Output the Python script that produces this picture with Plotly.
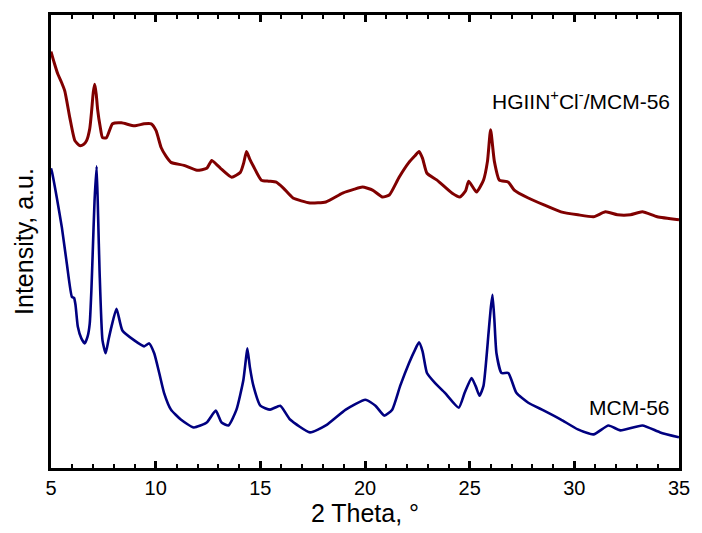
import plotly.graph_objects as go

# 2-theta positions (degrees) and intensities (a.u.)
theta_hgiin = [5.0, 5.15, 5.33, 5.5, 5.66, 5.9, 6.14, 6.37, 6.55, 6.7, 6.85, 6.94, 7.02, 7.09, 7.16,
               7.23, 7.35, 7.46, 7.65, 7.94, 8.36, 8.98, 9.45, 9.79, 10.02, 10.26, 10.5, 10.73,
               11.35, 11.97, 12.44, 12.68, 12.9, 13.1, 13.63, 14.05, 14.2, 14.34, 14.5, 14.67,
               15.05, 15.4, 15.76, 16.1, 16.56, 17.37, 18.13, 18.93, 19.5, 19.88, 20.36, 20.83,
               21.16, 21.63, 22.1, 22.4, 22.58, 22.75, 22.96, 23.44, 24.15, 24.53, 24.8, 24.95,
               25.15, 25.33, 25.66, 25.85, 26.0, 26.18, 26.42, 26.85, 27.13, 27.8, 28.55, 29.36,
               30.17, 30.92, 31.49, 32.06, 32.68, 33.25, 33.96, 35.0]
int_hgiin = [421, 410, 398, 390, 381, 354, 331, 326, 327, 331, 343, 361, 380, 388, 378,
             362, 345, 334, 334, 348, 349, 346, 348, 348, 341, 324, 315, 309,
             306, 301, 303, 311, 307, 303, 294, 299, 308, 320, 312, 305,
             291, 290, 289, 283, 273, 268, 269, 278, 282, 284, 281, 274,
             276, 294, 309, 316, 320, 313, 298, 291, 278, 274, 280, 290,
             284, 279, 291, 310, 342, 310, 291, 289, 281, 273, 266, 259,
             256, 254, 259, 256, 256, 259, 254, 251]

theta_mcm = [5.0, 5.05, 5.28, 5.52, 5.76, 6.0, 6.1, 6.17, 6.28, 6.45, 6.61, 6.75, 6.85, 6.93,
             6.99, 7.08, 7.18, 7.25, 7.32, 7.46, 7.61, 7.75, 7.89, 8.13, 8.41, 8.98, 9.45, 9.69,
             9.93, 10.17, 10.4, 10.73, 11.2, 11.82, 12.44, 12.87, 13.15, 13.48, 13.86, 14.19,
             14.3, 14.38, 14.5, 14.67, 15.0, 15.47, 15.95, 16.42, 17.37, 18.13, 19.08, 20.02,
             20.5, 20.92, 21.3, 21.68, 22.1, 22.4, 22.58, 22.75, 22.96, 23.34, 23.82, 24.48,
             24.76, 25.09, 25.3, 25.47, 25.66, 25.9, 26.0, 26.09, 26.18, 26.28, 26.52, 26.85,
             27.23, 27.8, 28.55, 29.36, 30.17, 30.92, 31.63, 32.2, 33.25, 34.1, 35.0]
int_mcm = [303, 299, 273, 243, 206, 173, 172, 165, 143, 131, 126, 133, 146, 180,
           216, 270, 305, 255, 199, 129, 116, 130, 143, 161, 139, 129, 123, 126,
           116, 96, 76, 59, 49, 41, 46, 58, 46, 43, 59, 89,
           108, 121, 102, 83, 63, 59, 63, 49, 36, 43, 59, 69,
           63, 53, 59, 83, 106, 120, 127, 118, 96, 86, 76, 61,
           76, 91, 82, 73, 83, 136, 160, 175, 150, 116, 96, 96,
           76, 66, 58, 49, 39, 34, 43, 38, 43, 36, 31]

x_ticks = [5, 10, 15, 20, 25, 30, 35]
label_hgiin = "HGIIN<sup>+</sup>Cl<sup>-</sup>/MCM-56"
label_mcm = "MCM-56"

FONT = "Arial, Liberation Sans, sans-serif"

fig = go.Figure()
fig.add_trace(go.Scatter(x=theta_hgiin, y=int_hgiin, mode="lines",
                         line=dict(color="#800000", width=3, shape="spline", smoothing=0.5),
                         name=label_hgiin, showlegend=False))
fig.add_trace(go.Scatter(x=theta_mcm, y=int_mcm, mode="lines",
                         line=dict(color="#000080", width=2.6, shape="spline", smoothing=0.5),
                         name=label_mcm, showlegend=False))

fig.add_annotation(x=34.67, y=372, xref="x", yref="y", text=label_hgiin, showarrow=False,
                   xanchor="right", yanchor="middle", font=dict(family=FONT, size=21, color="black"))
fig.add_annotation(x=34.67, y=61, xref="x", yref="y", text=label_mcm, showarrow=False,
                   xanchor="right", yanchor="middle", font=dict(family=FONT, size=21, color="black"))

fig.update_layout(
    width=702, height=533,
    margin=dict(l=51, r=18, t=13, b=62),
    paper_bgcolor="white", plot_bgcolor="white",
    font=dict(family=FONT, color="black"),
    xaxis=dict(range=[5, 35], tickmode="array", tickvals=x_ticks,
               ticktext=[str(v) for v in x_ticks],
               ticks="inside", ticklen=7, tickwidth=2.5, tickcolor="black",
               minor=dict(tickmode="linear", tick0=5, dtick=1, ticks="inside", ticklen=4,
                          tickwidth=2, tickcolor="black", showgrid=False),
               showline=True, linewidth=3, linecolor="black", mirror="allticks",
               showgrid=False, zeroline=False,
               tickfont=dict(family=FONT, size=20, color="black"),
               title=dict(text="2 Theta, °", font=dict(family=FONT, size=25, color="black"),
                          standoff=4)),
    yaxis=dict(range=[0, 458], showticklabels=False, ticks="",
               showline=True, linewidth=3, linecolor="black", mirror=True,
               showgrid=False, zeroline=False,
               title=dict(text="Intensity, a.u.", font=dict(family=FONT, size=25, color="black"),
                          standoff=8)),
)

fig.write_html("out.html")
